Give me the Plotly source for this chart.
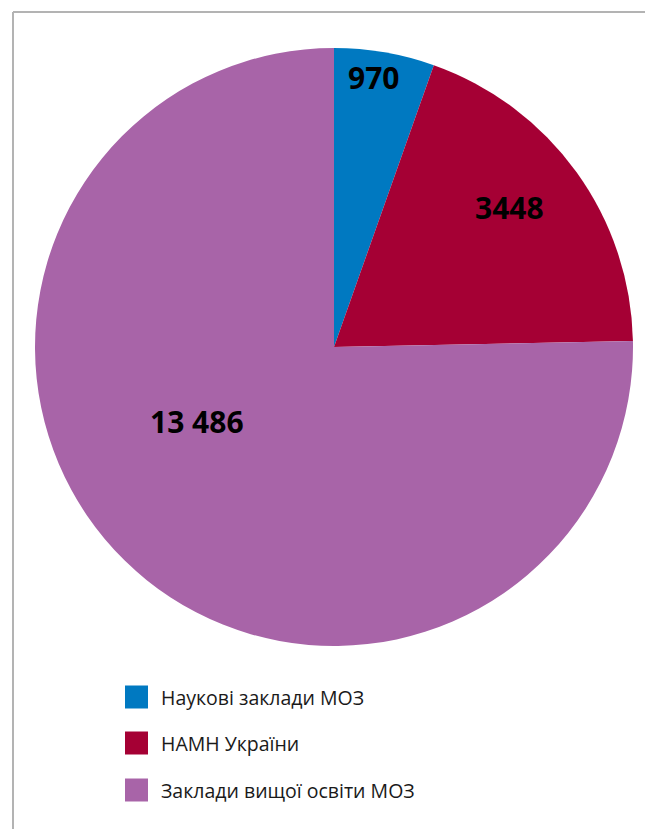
import math
import plotly.graph_objects as go

# Distribution of research staff by institution type
labels = ["Наукові заклади МОЗ", "НАМН України", "Заклади вищої освіти МОЗ"]
values = [970, 3448, 13486]
value_text = ["970", "3448", "13 486"]
colors = ["#0079C1", "#A50034", "#A864A8"]

W, H = 645, 829
cx, cy, R = 334, 347, 299  # pie centre and radius in pixels


def px(x):
    return x / W


def py(y):
    return 1 - y / H


fig = go.Figure(
    go.Pie(
        labels=labels,
        values=values,
        sort=False,
        direction="clockwise",
        rotation=0,
        marker=dict(colors=colors, line=dict(width=0)),
        textinfo="none",
        hoverinfo="label+value",
        showlegend=False,
        domain=dict(x=[px(cx - R), px(cx + R)], y=[py(cy + R), py(cy - R)]),
    )
)

# value labels placed along each slice's mid-angle
radial = [0.91, 0.75, 0.52]
angle_shift = [-1.5, -2.5, 17.0]
total = sum(values)
start = 0.0
annotations = []
for v, t, rf, da in zip(values, value_text, radial, angle_shift):
    span = 360.0 * v / total
    mid = math.radians(start + span / 2 + da)
    start += span
    x = cx + rf * R * math.sin(mid)
    y = cy - rf * R * math.cos(mid)
    annotations.append(dict(
        x=px(x), y=py(y), xref="paper", yref="paper",
        text=t, showarrow=False,
        font=dict(family="Open Sans", size=30, color="#000000", weight=700),
        xanchor="center", yanchor="middle",
    ))

# legend: coloured squares with captions
shapes = []
legend_y = [697, 743, 790]
for lab, col, ly in zip(labels, colors, legend_y):
    shapes.append(dict(
        type="rect", xref="paper", yref="paper",
        x0=px(125), x1=px(148), y0=py(ly + 11.5), y1=py(ly - 11.5),
        fillcolor=col, line=dict(width=0),
    ))
    annotations.append(dict(
        x=px(159), y=py(ly), xref="paper", yref="paper",
        text=lab, showarrow=False,
        font=dict(family="Open Sans", size=19.5, color="#1a1a1a"),
        xanchor="left", yanchor="middle",
    ))

# frame lines along the top and left edges
shapes.append(dict(type="line", xref="paper", yref="paper",
                   x0=px(13), x1=1.0, y0=py(12), y1=py(12),
                   line=dict(color="#b3b3b3", width=2)))
shapes.append(dict(type="line", xref="paper", yref="paper",
                   x0=px(13), x1=px(13), y0=py(12), y1=0.0,
                   line=dict(color="#b3b3b3", width=2)))

fig.update_layout(
    width=W, height=H,
    margin=dict(l=0, r=0, t=0, b=0),
    paper_bgcolor="white",
    plot_bgcolor="white",
    annotations=annotations,
    shapes=shapes,
)

fig.write_html("out.html")
